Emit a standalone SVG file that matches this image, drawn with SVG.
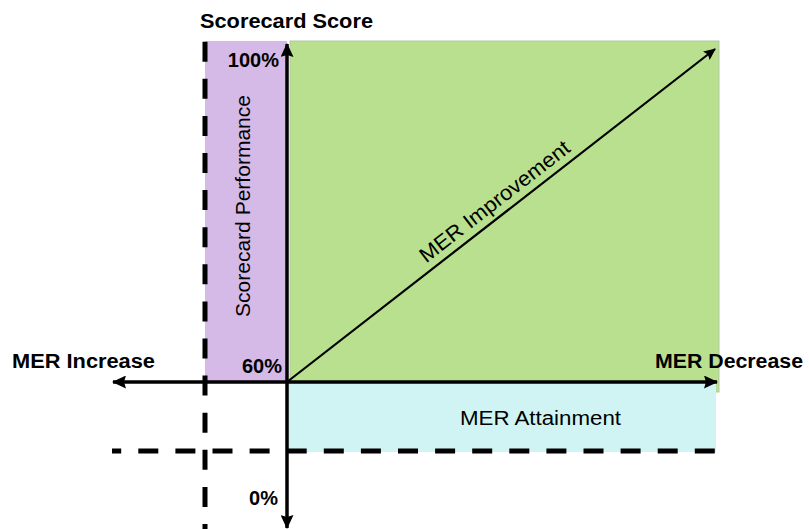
<svg xmlns="http://www.w3.org/2000/svg" width="809" height="529" viewBox="0 0 809 529">
<style>
.b{font-family:"Liberation Sans",Arial,sans-serif;font-weight:bold;font-size:20px;fill:#000}
.n{font-family:"Liberation Sans",Arial,sans-serif;font-size:20px;fill:#000}
.axis{stroke:#000;stroke-width:3.5;fill:none}
.dash{stroke:#000;stroke-width:5;fill:none;stroke-dasharray:20 17.1}
</style>
<defs>
<marker id="ah" markerUnits="userSpaceOnUse" markerWidth="14" markerHeight="13" viewBox="0 0 14 13" refX="13" refY="6.5" orient="auto">
<path d="M0,0 L14,6.5 L0,13 L2,6.5 z" fill="#000"/>
</marker>
<marker id="ah2" markerUnits="userSpaceOnUse" markerWidth="12" markerHeight="11" viewBox="0 0 12 11" refX="11" refY="5.5" orient="auto">
<path d="M0,0 L12,5.5 L0,11 L2,5.5 z" fill="#000"/>
</marker>
</defs>
<rect width="809" height="529" fill="#fff"/>
<g id="region-performance">
<rect x="205" y="41" width="82" height="340" fill="#D5B9E7"/>
<text class="n" transform="translate(250,206) rotate(-90)" text-anchor="middle" textLength="222" lengthAdjust="spacingAndGlyphs" style="font-size:21px">Scorecard Performance</text>
</g>
<g id="region-improvement">
<rect x="290" y="41" width="429" height="351" fill="#B8E08E" stroke="#B4C8A4" stroke-width="1"/>
</g>
<g id="region-attainment">
<rect x="288" y="383" width="428" height="69" fill="#D0F4F4"/>
<text class="n" x="540.5" y="425" text-anchor="middle" textLength="161" lengthAdjust="spacingAndGlyphs">MER Attainment</text>
</g>
<g id="connectors">
<line class="dash" x1="205" y1="41.7" x2="205" y2="529"/>
<line class="dash" x1="112" y1="451" x2="716" y2="451" stroke-dashoffset="10.8"/>
<line class="axis" x1="287" y1="382" x2="287" y2="44" marker-end="url(#ah)"/>
<line class="axis" x1="287" y1="382" x2="287" y2="528" marker-end="url(#ah)"/>
<line class="axis" x1="287" y1="382" x2="113" y2="382" marker-end="url(#ah)"/>
<line class="axis" x1="287" y1="382" x2="717" y2="382" marker-end="url(#ah)"/>
<line x1="287" y1="382" x2="715" y2="49" stroke="#000" stroke-width="2.2" marker-end="url(#ah2)"/>
</g>
<g id="label-improvement">
<text class="n" transform="translate(499,207) rotate(-37.8)" text-anchor="middle" textLength="184" lengthAdjust="spacingAndGlyphs" style="font-size:21px">MER Improvement</text>
</g>
<g id="labels">
<text class="b" x="200" y="28" textLength="173" lengthAdjust="spacingAndGlyphs">Scorecard Score</text>
<text class="b" x="279" y="67" text-anchor="end">100%</text>
<text class="b" x="282" y="373" text-anchor="end">60%</text>
<text class="b" x="278" y="505" text-anchor="end">0%</text>
<text class="b" x="12" y="368" textLength="143" lengthAdjust="spacingAndGlyphs">MER Increase</text>
<text class="b" x="655" y="368" textLength="148" lengthAdjust="spacingAndGlyphs">MER Decrease</text>
</g>
</svg>
